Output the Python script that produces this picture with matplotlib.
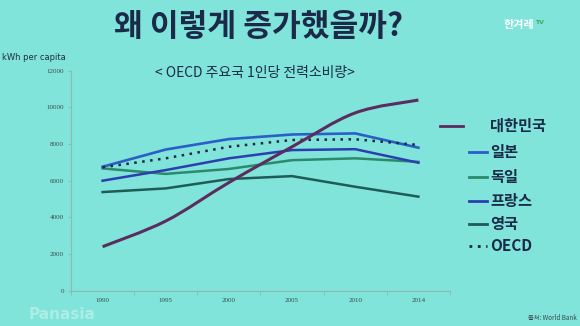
import numpy as np
import matplotlib.pyplot as plt
from matplotlib.path import Path
from matplotlib.patches import PathPatch
from matplotlib.lines import Line2D

plt.rcParams['font.family'] = ['Noto Sans CJK KR', 'DejaVu Sans']

years = ['1990', '1995', '2000', '2005', '2010', '2014']
korea = [2400, 3800, 5900, 7850, 9700, 10400]
japan = [6760, 7700, 8270, 8520, 8580, 7800]
germany = [6670, 6370, 6640, 7120, 7220, 7030]
france = [6000, 6580, 7220, 7670, 7720, 6980]
uk = [5380, 5580, 6090, 6250, 5670, 5130]
oecd = [6730, 7220, 7850, 8220, 8260, 7950]

bg = '#80e4da'
navy = '#1b2a48'
c_korea = '#5a2d5e'
c_japan = '#2a5fc8'
c_germany = '#2c8a6c'
c_france = '#2b3fae'
c_uk = '#1f5b58'
c_oecd = '#1a2540'

fig = plt.figure(figsize=(5.8, 3.26), dpi=100)
fig.patch.set_facecolor(bg)

ax = fig.add_axes([0.1224, 0.1083, 0.6534, 0.6748])
ax.set_facecolor(bg)
x = np.arange(len(years))

# Korea as a smoothed curve (bezier through the points)
pts = np.column_stack([x, korea]).astype(float)
ext = np.vstack([pts[0], pts, pts[-1]])
verts = [tuple(pts[0])]
codes = [Path.MOVETO]
for i in range(len(pts) - 1):
    p0, p1, p2, p3 = ext[i], ext[i + 1], ext[i + 2], ext[i + 3]
    c1 = p1 + (p2 - p0) / 6
    c2 = p2 - (p3 - p1) / 6
    verts += [tuple(c1), tuple(c2), tuple(p2)]
    codes += [Path.CURVE4] * 3
ax.add_patch(PathPatch(Path(verts, codes), fill=False, edgecolor=c_korea,
                       lw=2.2, capstyle='butt', zorder=4))

ax.plot(x, uk, color=c_uk, lw=1.8, zorder=3)
ax.plot(x, germany, color=c_germany, lw=1.8, zorder=3)
ax.plot(x, france, color=c_france, lw=1.8, zorder=3)
ax.plot(x, japan, color=c_japan, lw=1.9, zorder=3)
ax.plot(x, oecd, color=c_oecd, lw=1.8, ls=(0, (1, 2.2)), zorder=3)

ax.set_xlim(-0.5, 5.5)
ax.set_ylim(0, 12000)
ax.set_yticks(range(0, 12001, 2000))
ax.set_xticks(x)
ax.set_xticklabels(years)
ax.set_xticks(np.arange(-0.5, 5.6, 1), minor=True)
ax.tick_params(axis='x', which='major', length=0, pad=5)
ax.tick_params(axis='x', which='minor', length=3, color='#8fb8b4')
ax.tick_params(axis='y', length=2, color='#8fb8b4', pad=3)
for lab in ax.get_xticklabels() + ax.get_yticklabels():
    lab.set_fontfamily('Liberation Serif')
    lab.set_fontsize(5)
    lab.set_color('#3a4a4a')
for s in ['top', 'right']:
    ax.spines[s].set_visible(False)
for s in ['left', 'bottom']:
    ax.spines[s].set_color('#8fb8b4')
    ax.spines[s].set_linewidth(0.8)

# titles and captions
fig.text(0.445, 0.918, '왜 이렇게 증가했을까?', ha='center', va='center',
         fontsize=22.5, fontweight='bold', color=navy)
fig.text(0.868, 0.925, '한겨레', ha='left', va='center', fontsize=8,
         fontweight='bold', color='white')
fig.text(0.922, 0.93, 'TV', ha='left', va='center', fontsize=4.5,
         fontweight='bold', color='#3aa860', family='DejaVu Sans')
fig.text(0.004, 0.825, 'kWh per capita', ha='left', va='center',
         fontsize=6, color='#1f2f3f', family='DejaVu Sans')
fig.text(0.44, 0.776, '< OECD 주요국 1인당 전력소비량>', ha='center',
         va='center', fontsize=10, color=navy)
fig.text(0.995, 0.012, '출처: World Bank', ha='right', va='bottom',
         fontsize=4.5, color='#3a4a4a')
fig.text(0.05, 0.035, 'Panasia', ha='left', va='center', fontsize=11,
         fontweight='bold', color='white', alpha=0.35, family='DejaVu Sans')

# legend
names = ['대한민국', '일본', '독일', '프랑스', '영국', 'OECD']
colors = [c_korea, c_japan, c_germany, c_france, c_uk, c_oecd]
ys = [126, 152, 177, 201, 224, 246]
for i, (n, c, yp) in enumerate(zip(names, colors, ys)):
    yf = 1 - yp / 326
    if i == 0:
        x0, x1 = 440 / 580, 463 / 580
    else:
        x0, x1 = 469 / 580, 487 / 580
    ls = (0, (1, 2)) if n == 'OECD' else '-'
    fig.add_artist(Line2D([x0, x1], [yf, yf], color=c, lw=2, ls=ls,
                          transform=fig.transFigure))
    fig.text(490 / 580, yf, n, ha='left', va='center', fontsize=11,
             fontweight='bold', color=navy)

fig.savefig('out.png', dpi=100, facecolor=fig.get_facecolor())
